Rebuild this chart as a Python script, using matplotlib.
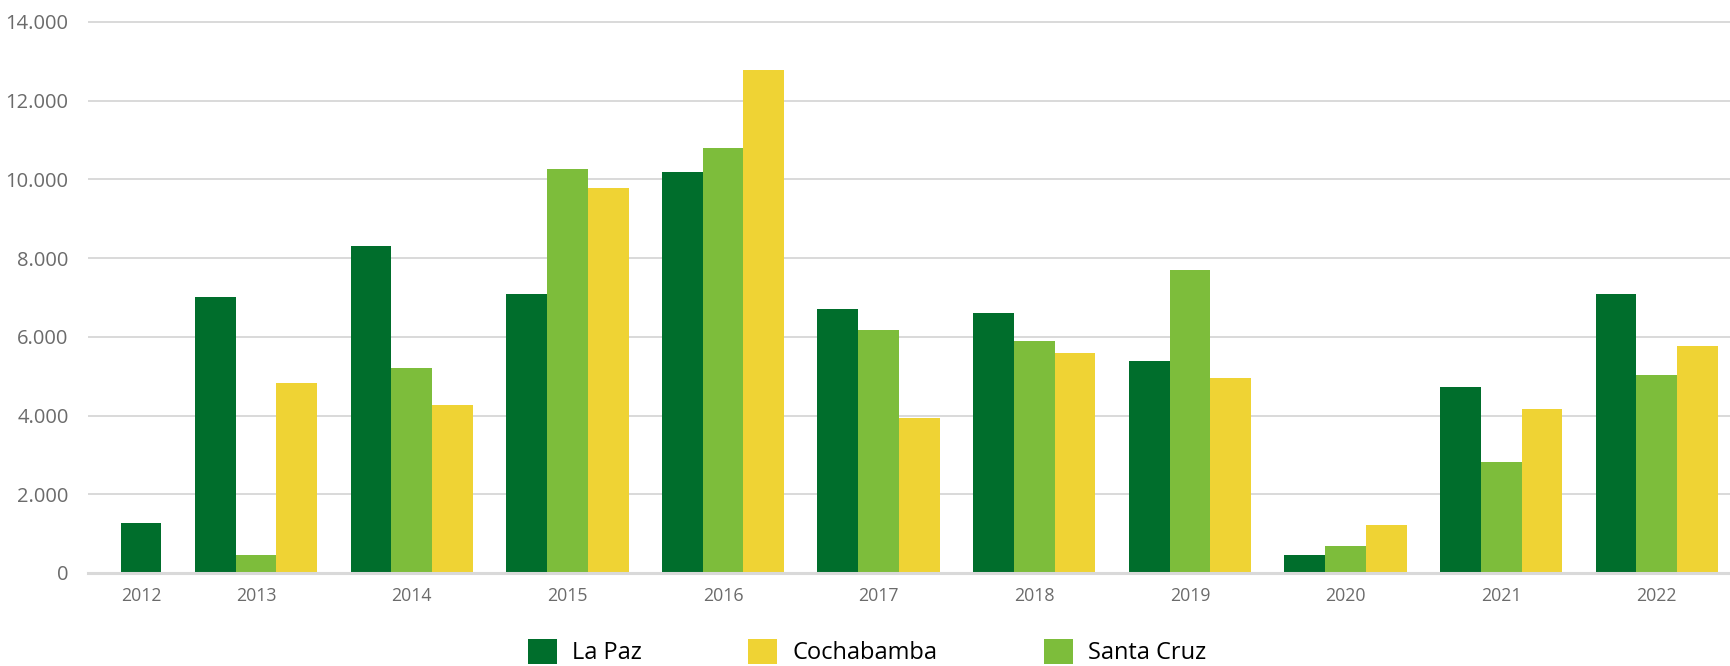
import numpy as np
import matplotlib
matplotlib.use("Agg")
import matplotlib.pyplot as plt
from matplotlib.ticker import FuncFormatter, MultipleLocator

# ---- data ----
years = ["2012", "2013", "2014", "2015", "2016", "2017", "2018", "2019", "2020", "2021", "2022"]
la_paz = [1270, 7000, 8300, 7100, 10200, 6700, 6600, 5380, 470, 4720, 7080]
santa_cruz = [np.nan, 470, 5220, 10270, 10800, 6170, 5900, 7700, 680, 2830, 5020]
cochabamba = [np.nan, 4820, 4280, 9790, 12790, 3950, 5580, 4960, 1230, 4170, 5760]

series_names = ["La Paz", "Santa Cruz", "Cochabamba"]
series_vals = [la_paz, santa_cruz, cochabamba]
colors = {"La Paz": "#006E2C", "Santa Cruz": "#7DBD3B", "Cochabamba": "#EFD334"}
legend_order = ["La Paz", "Cochabamba", "Santa Cruz"]

plt.rcParams['font.family'] = ['Open Sans', 'DejaVu Sans']

fig = plt.figure(figsize=(17.3, 6.66), dpi=100)
ax = fig.add_axes([88/1730, 1 - 573/666, 1 - 88/1730, (573 - 20)/666])

# category positions (first category sits closer to the second one in the reference)
x = np.arange(len(years), dtype=float)
x[0] = x[1] - 0.74
w = 0.262

handles = {}
for ci, xc in enumerate(x):
    present = [(n, v[ci]) for n, v in zip(series_names, series_vals) if not np.isnan(v[ci])]
    k = len(present)
    for j, (n, val) in enumerate(present):
        off = (j - (k - 1) / 2) * w
        b = ax.bar(xc + off, val, width=w, color=colors[n], zorder=3, linewidth=0)
        handles[n] = b

ax.set_xlim(-0.08, 10.47)
ax.set_ylim(0, 14000 * (573 - 20) / (573 - 22))
ax.yaxis.set_major_locator(MultipleLocator(2000))
ax.yaxis.set_major_formatter(FuncFormatter(lambda v, p: f"{int(v):,}".replace(",", ".")))
ax.set_xticks(x)
ax.set_xticklabels(years)

for s in ["top", "right", "left"]:
    ax.spines[s].set_visible(False)
ax.spines["bottom"].set_color("#d9d9d9")
ax.spines["bottom"].set_linewidth(2.2)
ax.spines["bottom"].set_zorder(4)

ax.grid(axis="y", color="#d9d9d9", linewidth=1.4, zorder=0)
ax.tick_params(axis="y", length=0, pad=14, labelsize=14.5, labelcolor="#6b6b6b")
ax.tick_params(axis="x", length=0, pad=10, labelsize=12.8, labelcolor="#6b6b6b")

fig.legend([handles[n] for n in legend_order], legend_order,
           loc="upper left", bbox_to_anchor=(528/1730, 1 - 639/666),
           ncol=3, frameon=False, fontsize=17, borderpad=0, borderaxespad=0,
           handlelength=1.23, handleheight=1.23, handletextpad=0.65,
           columnspacing=4.5)

fig.savefig("out.png", dpi=100, facecolor="white")
